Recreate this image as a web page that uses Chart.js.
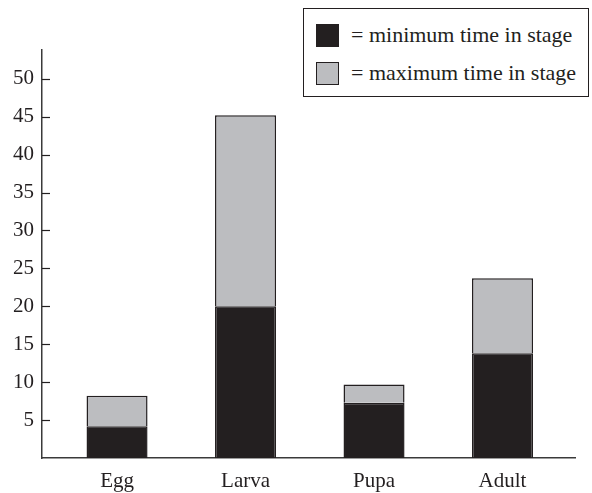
<!DOCTYPE html>
<html>
<head>
<meta charset="utf-8">
<script src="https://cdn.jsdelivr.net/npm/chart.js@4"></script>
<style>
  body { margin: 0; background: #fff; }
  #wrap { position: relative; width: 592px; height: 493px; }
  #legend {
    position: absolute; left: 303px; top: 8px; width: 286px; height: 89px;
    border: 1.5px solid #231f20; box-sizing: border-box; background: #fff;
    font-family: "Liberation Serif", serif; font-size: 22px; color: #231f20;
  }
  .row { position: absolute; left: 12px; display: flex; align-items: center; }
  .sw { width: 21px; height: 21px; border: 1px solid #231f20; margin-right: 12px; }
</style>
</head>
<body>
<div id="wrap">
  <canvas id="c"></canvas>
  <div id="legend"></div>
</div>
<script>
// stages and days spent in each
const stages = ['Egg', 'Larva', 'Pupa', 'Adult'];
const minTime = [4.2, 20, 7.3, 13.8];
const maxTime = [8.2, 45.2, 9.7, 23.7];
const yTicks = [5, 10, 15, 20, 25, 30, 35, 40, 45, 50];
const legendText = ['= minimum time in stage', '= maximum time in stage'];

const ink = '#231f20';
const grey = '#bcbdc0';
const font = { family: '"Liberation Serif", serif', size: 21 };

// little tick marks pointing into the plot
const innerTicks = {
  id: 'innerTicks',
  afterDraw(chart) {
    const { ctx, chartArea, scales } = chart;
    ctx.save();
    ctx.strokeStyle = ink;
    ctx.lineWidth = 1.2;
    for (const v of yTicks) {
      const y = Math.round(scales.y.getPixelForValue(v)) + 0.5;
      ctx.beginPath();
      ctx.moveTo(chartArea.left, y);
      ctx.lineTo(chartArea.left + 8, y);
      ctx.stroke();
    }
    ctx.restore();
  }
};

const chart = new Chart(document.getElementById('c'), {
  type: 'bar',
  data: {
    datasets: [
      {
        label: legendText[0],
        data: minTime.map((v, i) => ({ x: i, y: v })),
        backgroundColor: ink, borderColor: ink, borderWidth: 1.5
      },
      {
        // grey part sits on the black one, so it is max - min tall
        label: legendText[1],
        data: maxTime.map((v, i) => ({ x: i, y: v - minTime[i] })),
        backgroundColor: grey, borderColor: ink, borderWidth: 1.5
      }
    ]
  },
  options: {
    responsive: true,
    maintainAspectRatio: false,
    animation: false,
    barPercentage: 0.475,
    categoryPercentage: 1,
    layout: { padding: { top: 50, right: 17, left: 0, bottom: 0 } },
    plugins: { legend: { display: false }, tooltip: { enabled: false } },
    scales: {
      x: {
        type: 'linear', stacked: true, offset: false,
        min: -0.584, max: 3.564,
        grid: { display: false, drawTicks: false },
        border: { display: true, color: '#3a3a3a', width: 1.5 },
        ticks: {
          stepSize: 1, includeBounds: false, padding: 11,
          color: ink, font,
          callback: v => stages[v] || ''
        },
        afterFit: s => { s.height = 35; }
      },
      y: {
        stacked: true, min: 0, max: 53.8,
        grid: { display: false, drawTicks: false },
        border: { display: true, color: '#3a3a3a', width: 1.5 },
        ticks: {
          stepSize: 5, includeBounds: false, padding: 8,
          color: ink, font,
          callback: v => (yTicks.includes(v) ? v : '')
        },
        afterFit: s => { s.width = 42; }
      }
    }
  },
  plugins: [innerTicks]
});

// legend box drawn as html over the plot, from the datasets
const lg = document.getElementById('legend');
chart.data.datasets.forEach((ds, i) => {
  const row = document.createElement('div');
  row.className = 'row';
  row.style.top = (i === 0 ? 13 : 51) + 'px';
  const sw = document.createElement('span');
  sw.className = 'sw';
  sw.style.background = ds.backgroundColor;
  const t = document.createElement('span');
  t.textContent = ds.label;
  row.appendChild(sw);
  row.appendChild(t);
  lg.appendChild(row);
});
</script>
</body>
</html>
